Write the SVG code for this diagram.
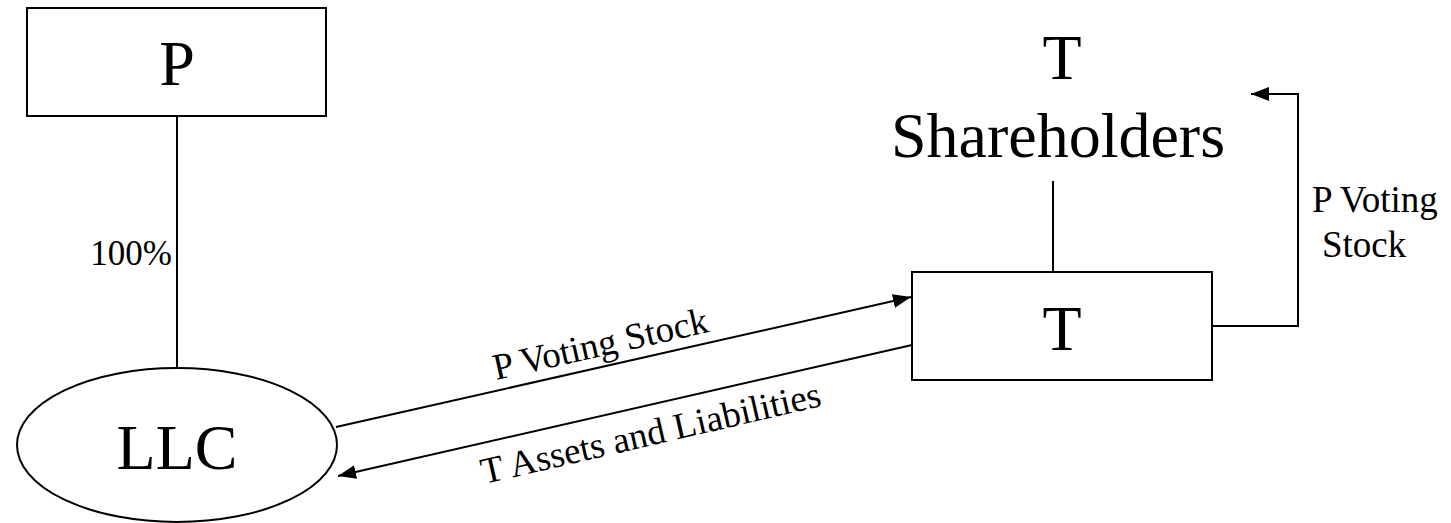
<svg xmlns="http://www.w3.org/2000/svg" width="1451" height="523" viewBox="0 0 1451 523">
<style>
.box{fill:#fff;stroke:#000;stroke-width:2}
.ln{fill:none;stroke:#000;stroke-width:2}
.big{font-family:"Liberation Serif","Times New Roman",serif;font-size:64px;fill:#000;text-anchor:middle}
.sm{font-family:"Liberation Serif","Times New Roman",serif;font-size:37px;fill:#000}
</style>
<defs>
<marker id="ah" viewBox="0 0 18 14" refX="18" refY="7" markerWidth="18" markerHeight="14" markerUnits="userSpaceOnUse" orient="auto">
<path d="M0,0 L18,7 L0,14 z" fill="#000"/>
</marker>
</defs>
<rect width="1451" height="523" fill="#fff"/>
<g id="connectors">
<line class="ln" x1="177" y1="116" x2="177" y2="367"/>
<line class="ln" x1="1053" y1="181" x2="1053" y2="272"/>
<line class="ln" x1="336" y1="427" x2="911" y2="297" marker-end="url(#ah)"/>
<line class="ln" x1="912" y1="345" x2="338" y2="476" marker-end="url(#ah)"/>
<polyline class="ln" points="1212,326 1298,326 1298,94 1251,94" marker-end="url(#ah)"/>
<text class="sm" x="172" y="265" style="font-size:35px;text-anchor:end">100%</text>
<text class="sm" transform="translate(496,380) rotate(-12.7)">P Voting Stock</text>
<text class="sm" transform="translate(484,484) rotate(-13)">T Assets and Liabilities</text>
<text class="sm" x="1312" y="212">P Voting</text>
<text class="sm" x="1322" y="257">Stock</text>
</g>
<g id="node-P">
<rect class="box" x="27" y="8" width="299" height="108"/>
<text class="big" x="177" y="85">P</text>
</g>
<g id="node-LLC">
<ellipse class="box" cx="177" cy="445" rx="160" ry="77"/>
<text class="big" x="177" y="469">LLC</text>
</g>
<g id="node-T">
<rect class="box" x="912" y="272" width="300" height="108"/>
<text class="big" x="1062" y="350">T</text>
</g>
<g id="node-TShareholders">
<text class="big" x="1062" y="79">T</text>
<text class="big" x="1058" y="157">Shareholders</text>
</g>
</svg>
